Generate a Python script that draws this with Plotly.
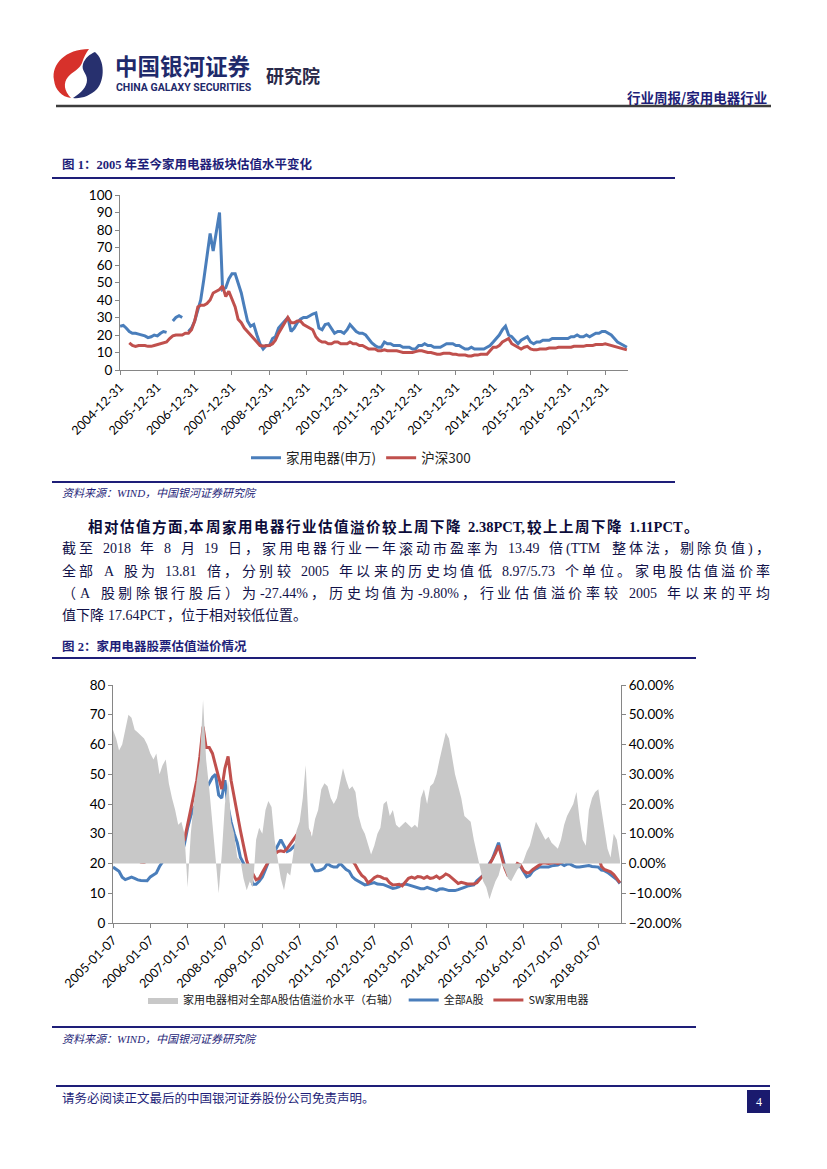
import plotly.graph_objects as go

# The page body adds an 8px margin, so the figure is drawn 8px smaller on each
# axis and every page coordinate below is shifted by that offset.
OFF = 8
W, H = 827 - 2 * OFF, 1169 - 2 * OFF
def px(x): return (x - OFF) / W
def py(y): return 1 - (y - OFF) / H

CJK = "Noto Sans CJK SC"
NUM = "Lato, Noto Sans CJK SC"
SERIF = "Liberation Serif, Noto Sans CJK SC"
NAVY = "#1e1e78"
BLUE = "#4a7ebb"
RED = "#c0504d"
GRAY = "#c8c8c8"
AXIS = "#868686"

# ---------------- data ----------------
ym = [f"{y}-{m:02d}" for y in range(2005, 2019) for m in range(1, 13)][:164]
dates1 = [f"{d}-01" for d in ym]
dates2 = [f"{d}-07" for d in ym]

c1_ticks = ["2004-12-31", "2005-12-31", "2006-12-31", "2007-12-31", "2008-12-31",
            "2009-12-31", "2010-12-31", "2011-12-31", "2012-12-31", "2013-12-31",
            "2014-12-31", "2015-12-31", "2016-12-31", "2017-12-31"]
c2_ticks = ["2005-01-07", "2006-01-07", "2007-01-07", "2008-01-07", "2009-01-07",
            "2010-01-07", "2011-01-07", "2012-01-07", "2013-01-07", "2014-01-07",
            "2015-01-07", "2016-01-07", "2017-01-07", "2018-01-07"]

# Figure 1: 家用电器(申万) PE
sw_home_pe = [
    25, 25.5, 24, 22, 21, 21, 20.5, 20, 19.5, 18.5, 19, 20,
    19.5, 21, 22, 21.5, None, 28, 30, 31, 30, None, 22, 24,
    28, 35, 40, 52, 64, 78, 68, 80, 90, 46, 47, 52,
    55, 55, 50, 44, 36, 28, 25, 26, 20, 15, 12, 14,
    14, 18, 19, 24, 26, 28, 30, 22, 24, 27, 29, 30,
    30, 31, 32, 32.6, 24, 23, 26, 26.5, 24, 21, 22, 22,
    21, 23, 26, 24, 22, 21, 21, 20, 17.5, 15.5, 14, 13,
    13, 16, 15, 15, 14, 14, 14, 13, 13, 13, 12, 12,
    14, 14, 15, 14, 14, 13, 13, 13, 14, 15, 15, 15,
    14, 14, 13, 12, 12, 13, 12, 12, 12, 12, 13, 14,
    16, 18, 20, 23, 25, 20, 19, 17, 15, 17, 18, 19,
    16, 15, 16, 16, 17, 17, 17, 18, 18, 18, 18, 18,
    18, 19, 19, 20, 19, 19, 20, 19, 20, 21, 21, 22,
    22, 21, 20, 18, 16, 15, 14, 13]
# Figure 1: 沪深300 PE
hs300_pe = [
    None, None, None, 15.5, 14, 13.5, 14, 14, 14, 13.5, 13.5, 14,
    14.5, 15, 15.5, 16, 18, 19.5, 20, 20, 20, 21, 21, 23,
    28, 36, 37, 37, 38, 40, 44, 45, 46, 48, 42, 45,
    40, 36, 29, 27, 24, 22, 20, 18, 15.5, 14, 13.7, 14,
    14, 15, 17, 21, 24, 27, 30, 27, 27, 28, 28, 26,
    25, 24, 23, 19, 17, 16, 16, 15, 15, 16, 16, 15,
    15, 15, 16, 15, 15, 14, 14, 13, 12, 12, 12, 11,
    11, 11.5, 11, 11, 11, 11, 10.5, 10, 10, 10, 10, 10.5,
    11, 11, 10.5, 10, 10, 9.5, 9, 9, 9.5, 9.5, 9.5, 9,
    9, 8.5, 8.5, 8.5, 8, 8, 8.5, 8.5, 9, 9, 9, 11,
    13, 13, 14, 16, 17, 18, 15, 14, 13, 12, 13, 13.5,
    12, 11.5, 11.5, 12, 12, 12, 12.5, 12.5, 12.5, 13, 13, 13,
    13, 13, 13.5, 13.5, 13.5, 13.5, 14, 14, 14, 14.5, 14.5, 14.5,
    15, 14.5, 14, 13.5, 13, 12.5, 12, 11.5]

# Figure 2: premium of home appliances vs all A shares (%) - right axis
premium_pct = [
    45, 42, 38, 40, 45, 50, 49, 45, 44, 43, 42, 40,
    37, 35, 37, 30, 33, 35, 27, 22, 18, 13, 14, 10,
    -8, 10, 20, 28, 35, 55, 35, 25, 12, 2, -10, 3,
    20, 28, 14, 10, 2, 1, -5, -9, -6, -8, 8, 12,
    10, 18, 21, 19, 8, 2, -5, -9, -3, -4, 3, 11,
    14, 22, 33, 12, 9, 15, 18, 25, 27, 26, 22, 20,
    22, 27, 32, 28, 25, 26, 24, 16, 12, 10, 6, 3,
    6, 10, 12, 20, 21, 16, 18, 13, 12, 13, 14, 13,
    12, 13, 12, 22, 25, 20, 26, 27, 30, 35, 40, 44,
    42, 36, 30, 26, 22, 16, 15, 14, 8, 3, -2, -6,
    -8, -12, -9, -6, -4, 0, -2, -5, -6, -4, -2, -1,
    1, 4, 6, 10, 14, 12, 10, 8, 9, 7, 6, 5,
    8, 13, 16, 18, 20, 24, 15, 8, 6, 18, 22, 24,
    25, 18, 12, 5, 2, 10, 8, 1]
# Figure 2: 全部A股 PE
all_a_pe = [
    18.8, 18.2, 17.4, 15.4, 14.6, 15, 15.4, 15, 14.5, 14.3, 14.3, 14.2,
    15.5, 16.2, 16.8, 19, 20.5, 21.5, 22, 21, 21.5, 22.3, 23, 26.5,
    32, 36, 38.5, 40, 41, 42, 45, 47, 49, 50, 43, 42,
    48, 39, 34, 30, 27, 22, 20, 18, 16, 13, 13, 14,
    15.5, 18, 20.5, 22, 24, 26, 28, 26, 24, 24.5, 25.5, 26.6,
    26.6, 26, 25.5, 25.5, 19.5, 17.6, 17.6, 17.9, 18.5, 20, 19.2, 18.8,
    18.8, 20, 19, 18, 17.4, 15.5, 14.6, 14, 13.5, 12.8, 13, 13.4,
    13.6, 13.1, 13.1, 12.9, 12.5, 12, 11.6, 11.8, 12.2, 13, 13.1, 12.8,
    12.5, 12, 11.7, 11.5, 11.5, 12, 11.6, 11.2, 10.9, 11.4, 11.5, 11.2,
    10.9, 10.9, 10.9, 11.2, 11.5, 12, 12.4, 12.6, 12.8, 14.2, 15, 16,
    17, 20, 21.5, 24, 27, 23, 19, 17, 17, 18.8, 19.8, 19,
    17, 15.5, 16, 17.5, 18.2, 18.8, 18.8, 18.8, 18.8, 19.2, 19.3, 19.5,
    20, 19.3, 19.8, 19.8, 19.2, 18.8, 18.8, 19, 19.3, 19.3, 19, 18.8,
    18.8, 17.8, 17.6, 17, 16.3, 15.5, 14.6, 13.3]
# Figure 2: SW家用电器 PE
sw_home_pe2 = [
    27, 26.6, 24.5, 23, 22.3, 21.6, 21.8, 21.5, 21, 20.5, 20.4, 20.8,
    21.5, 21.5, 22.8, 25, 28.5, 28.8, 27, 25, 24.6, 25.5, 26.4, 28,
    33, 39, 43, 48, 56, 66, 59, 59, 57, 53, 48, 45,
    52, 56, 48, 42, 36, 31, 26, 21, 18, 16.5, 14.5, 15,
    17, 19, 21, 22.5, 23, 24, 24.3, 24, 25, 26.5, 28, 29.3,
    31, 32, 32, 30.5, 23, 22, 22.5, 23.5, 24.2, 24.2, 22.8, 22.7,
    22.7, 24, 26, 24.5, 22.5, 21, 19.5, 17.5, 16, 15.2, 13.5, 14.2,
    15.2, 15.8, 15.6, 15, 14.8, 13.5, 12.8, 12.9, 13, 12.5, 13.6, 15,
    15.4, 15, 15.6, 15.5, 15, 15.6, 15, 15.2, 15.8, 15, 15.6, 16.5,
    16, 15, 14.2, 13.3, 13.7, 13.3, 13.1, 13.1, 13.1, 13.5, 14.6, 16,
    17.6, 19.5, 21.5, 23.5, 26, 22, 18.5, 16, 15.8, 18, 20, 19.5,
    17.6, 16.8, 17, 18, 18.8, 19.6, 20.2, 20.2, 20, 20.2, 20.3, 20,
    20.4, 20.8, 21.5, 22, 22, 21.3, 21.2, 21.5, 21, 21.5, 22.3, 22.8,
    22.5, 19, 18, 17.6, 17.2, 16.3, 15, 13.5]

# ---------------- figure ----------------
fig = go.Figure()
fig.add_trace(go.Scatter(x=dates1, y=sw_home_pe, name="家用电器(申万)", mode="lines",
                         line=dict(color=BLUE, width=3), xaxis="x", yaxis="y", legend="legend"))
fig.add_trace(go.Scatter(x=dates1, y=hs300_pe, name="沪深300", mode="lines",
                         line=dict(color=RED, width=3), xaxis="x", yaxis="y", legend="legend"))

fig.add_trace(go.Scatter(x=dates2, y=premium_pct, name="家用电器相对全部A股估值溢价水平（右轴）",
                         mode="lines", fill="tozeroy", fillcolor=GRAY, line=dict(color=GRAY, width=0),
                         xaxis="x2", yaxis="y3", legend="legend2"))
fig.add_trace(go.Scatter(x=dates2, y=all_a_pe, name="全部A股", mode="lines",
                         line=dict(color=BLUE, width=3), xaxis="x2", yaxis="y2", legend="legend2"))
fig.add_trace(go.Scatter(x=dates2, y=sw_home_pe2, name="SW家用电器", mode="lines",
                         line=dict(color=RED, width=3), xaxis="x2", yaxis="y2", legend="legend2"))

axis_common = dict(showline=True, linecolor=AXIS, linewidth=1, ticks="outside", ticklen=4,
                   tickcolor=AXIS, showgrid=False, zeroline=False, automargin=False)

fig.update_layout(
    template="none",
    width=W, height=H, autosize=False,
    margin=dict(l=0, r=0, t=0, b=0, pad=0),
    paper_bgcolor="white", plot_bgcolor="rgba(0,0,0,0)",
    font=dict(family=CJK, color="#000"),
    xaxis=dict(domain=[px(120), px(628)], anchor="y", type="date",
               range=["2004-12-31", "2018-08-12"], tickmode="array",
               tickvals=c1_ticks, ticktext=c1_ticks, tickangle=-45,
               tickfont=dict(family=NUM, size=12.5, color="#000"), **axis_common),
    yaxis=dict(domain=[py(370), py(195)], anchor="x", range=[0, 100], dtick=10,
               tickfont=dict(family=NUM, size=13.5, color="#000"), **axis_common),
    xaxis2=dict(domain=[px(113), px(621)], anchor="y2", type="date",
                range=["2005-01-07", "2018-08-17"], tickmode="array",
                tickvals=c2_ticks, ticktext=c2_ticks, tickangle=-45,
                tickfont=dict(family=NUM, size=12.5, color="#000"), **axis_common),
    yaxis2=dict(domain=[py(923), py(685)], anchor="x2", range=[0, 80], dtick=10,
                tickfont=dict(family=NUM, size=13.5, color="#000"), **axis_common),
    yaxis3=dict(overlaying="y2", anchor="x2", side="right", range=[-20, 60], dtick=10,
                tickformat=".2f", ticksuffix="%",
                tickfont=dict(family=NUM, size=13.5, color="#000"), **axis_common),
    legend=dict(orientation="h", x=px(246), y=py(458), xanchor="left", yanchor="middle",
                font=dict(family=CJK, size=13.5, color="#222"), bgcolor="rgba(0,0,0,0)",
                itemwidth=30, traceorder="normal"),
    legend2=dict(orientation="h", x=px(143), y=py(1000), xanchor="left", yanchor="middle",
                 font=dict(family=CJK, size=11, color="#222"), bgcolor="rgba(0,0,0,0)",
                 itemwidth=30, traceorder="normal"),
    showlegend=True,
)

annotations = []
shapes = []

def ann(x, y, text, size, color="#000", bold=False, italic=False, xanchor="left", family=CJK):
    t = text
    if bold:
        t = f"<b>{t}</b>"
    if italic:
        t = f"<i>{t}</i>"
    annotations.append(dict(x=px(x), y=py(y), xref="paper", yref="paper", text=t,
                            showarrow=False, xanchor=xanchor, yanchor="middle",
                            font=dict(size=size, color=color, family=family)))

def hline(x0, x1, y, color, width):
    shapes.append(dict(type="line", xref="paper", yref="paper", x0=px(x0), x1=px(x1),
                       y0=py(y), y1=py(y), line=dict(color=color, width=width)))

WID = {".": 0.25, ",": 0.25, "/": 0.28, "%": 0.83, "-": 0.33, "(": 0.33, ")": 0.33,
       "A": 0.72, "P": 0.61, "C": 0.72, "T": 0.67, "M": 0.89, " ": 0.25}

def cw(ch, bold):
    if ord(ch) > 0x2E80:
        return 1.0
    return WID.get(ch, 0.5) * (1.0 if bold else 1.0)

def justify(line, x0, x1, y, size, color, bold=False):
    tokens, buf = [], ""
    for ch in line:
        if ord(ch) > 0x2E80 or ch == " ":
            if buf:
                tokens.append(buf)
                buf = ""
            tokens.append(ch)
        else:
            buf += ch
    if buf:
        tokens.append(buf)
    widths = [sum(cw(c, bold) for c in t) * size for t in tokens]
    extra = 0 if x1 is None else (x1 - x0 - sum(widths)) / (len(tokens) - 1)
    x = x0
    for t, w in zip(tokens, widths):
        if t != " ":
            ann(x, y, t, size, color=color, bold=bold, family=SERIF)
        x += w + extra

# ---- header ----
def path_from(points_cmds):
    out = []
    for cmd, pts in points_cmds:
        coords = " ".join(f"{px(a):.5f},{py(b):.5f}" for a, b in pts)
        out.append(f"{cmd} {coords}")
    return " ".join(out) + " Z"

red_logo = path_from([
    ("M", [(89, 49)]),
    ("C", [(66, 49), (51, 64), (54, 80)]),
    ("C", [(55, 90), (62, 97), (71, 98)]),
    ("C", [(64, 91), (63, 83), (68, 77)]),
    ("C", [(72, 72), (80, 69), (82, 63)]),
    ("C", [(84, 57), (86, 53), (89, 49)]),
])
navy_logo = path_from([
    ("M", [(95, 52)]),
    ("C", [(105, 60), (105, 80), (97, 89)]),
    ("C", [(90, 96), (81, 99), (73, 98)]),
    ("C", [(81, 93), (87, 87), (87, 80)]),
    ("C", [(87, 73), (81, 71), (83, 64)]),
    ("C", [(85, 58), (90, 54), (95, 52)]),
])
shapes.append(dict(type="path", xref="paper", yref="paper", path=red_logo,
                   fillcolor="#d7312b", line=dict(width=0)))
shapes.append(dict(type="path", xref="paper", yref="paper", path=navy_logo,
                   fillcolor="#27306e", line=dict(width=0)))

ann(113, 65, "中国银河证券", 22.5, color="#1f2a6b", bold=True)
ann(114, 88, "CHINA GALAXY SECURITIES", 10.5, color="#1f2a6b", bold=True,
    family="Liberation Sans Narrow, Roboto, sans-serif")
ann(264, 75, "研究院", 18, color="#2a2a4a", bold=True)
ann(769, 97, "行业周报/家用电器行业", 13.5, color=NAVY, bold=True, xanchor="right")
hline(56, 771, 106, "#3c3c3c", 2.5)

# ---- figure 1 ----
ann(60, 165, "图 1：2005 年至今家用电器板块估值水平变化", 12.5, color=NAVY, bold=True, family=SERIF)
hline(52, 675, 178, NAVY, 2)
hline(52, 675, 482, NAVY, 2)
ann(60, 493, "资料来源：WIND，中国银河证券研究院", 11, color=NAVY, italic=True, family=SERIF)

# ---- paragraph ----
PCOL = "#111148"
justify("相对估值方面,本周家用电器行业估值溢价较上周下降 2.38PCT,较上上周下降 1.11PCT。",
        86, 697, 527, 14.5, "#0c0c3a", bold=True)
justify("截至 2018 年 8 月 19 日，家用电器行业一年滚动市盈率为 13.49 倍(TTM 整体法，剔除负值)，",
        60, 768, 549, 14, PCOL)
justify("全部 A 股为 13.81 倍，分别较 2005 年以来的历史均值低 8.97/5.73 个单位。家电股估值溢价率",
        60, 768, 571, 14, PCOL)
justify("（A 股剔除银行股后）为-27.44%，历史均值为-9.80%，行业估值溢价率较 2005 年以来的平均",
        60, 768, 593, 14, PCOL)
justify("值下降 17.64PCT，位于相对较低位置。", 60, None, 615, 14, PCOL)

# ---- figure 2 ----
ann(60, 646, "图 2：家用电器股票估值溢价情况", 12.5, color=NAVY, bold=True, family=SERIF)
hline(52, 696, 658, NAVY, 2)
hline(52, 696, 1027, NAVY, 2)
ann(60, 1039, "资料来源：WIND，中国银河证券研究院", 11, color=NAVY, italic=True, family=SERIF)

# ---- footer ----
hline(56, 770, 1086, NAVY, 2)
ann(60, 1098, "请务必阅读正文最后的中国银河证券股份公司免责声明。", 12.5, color=NAVY, family=SERIF)
shapes.append(dict(type="rect", xref="paper", yref="paper", x0=px(747), x1=px(770),
                   y0=py(1113), y1=py(1090), fillcolor="#1a1a6e", line=dict(width=0)))
ann(758.5, 1101.5, "4", 12, color="white", xanchor="center", family="Liberation Serif")

fig.update_layout(annotations=annotations, shapes=shapes)
fig.write_html("out.html")
